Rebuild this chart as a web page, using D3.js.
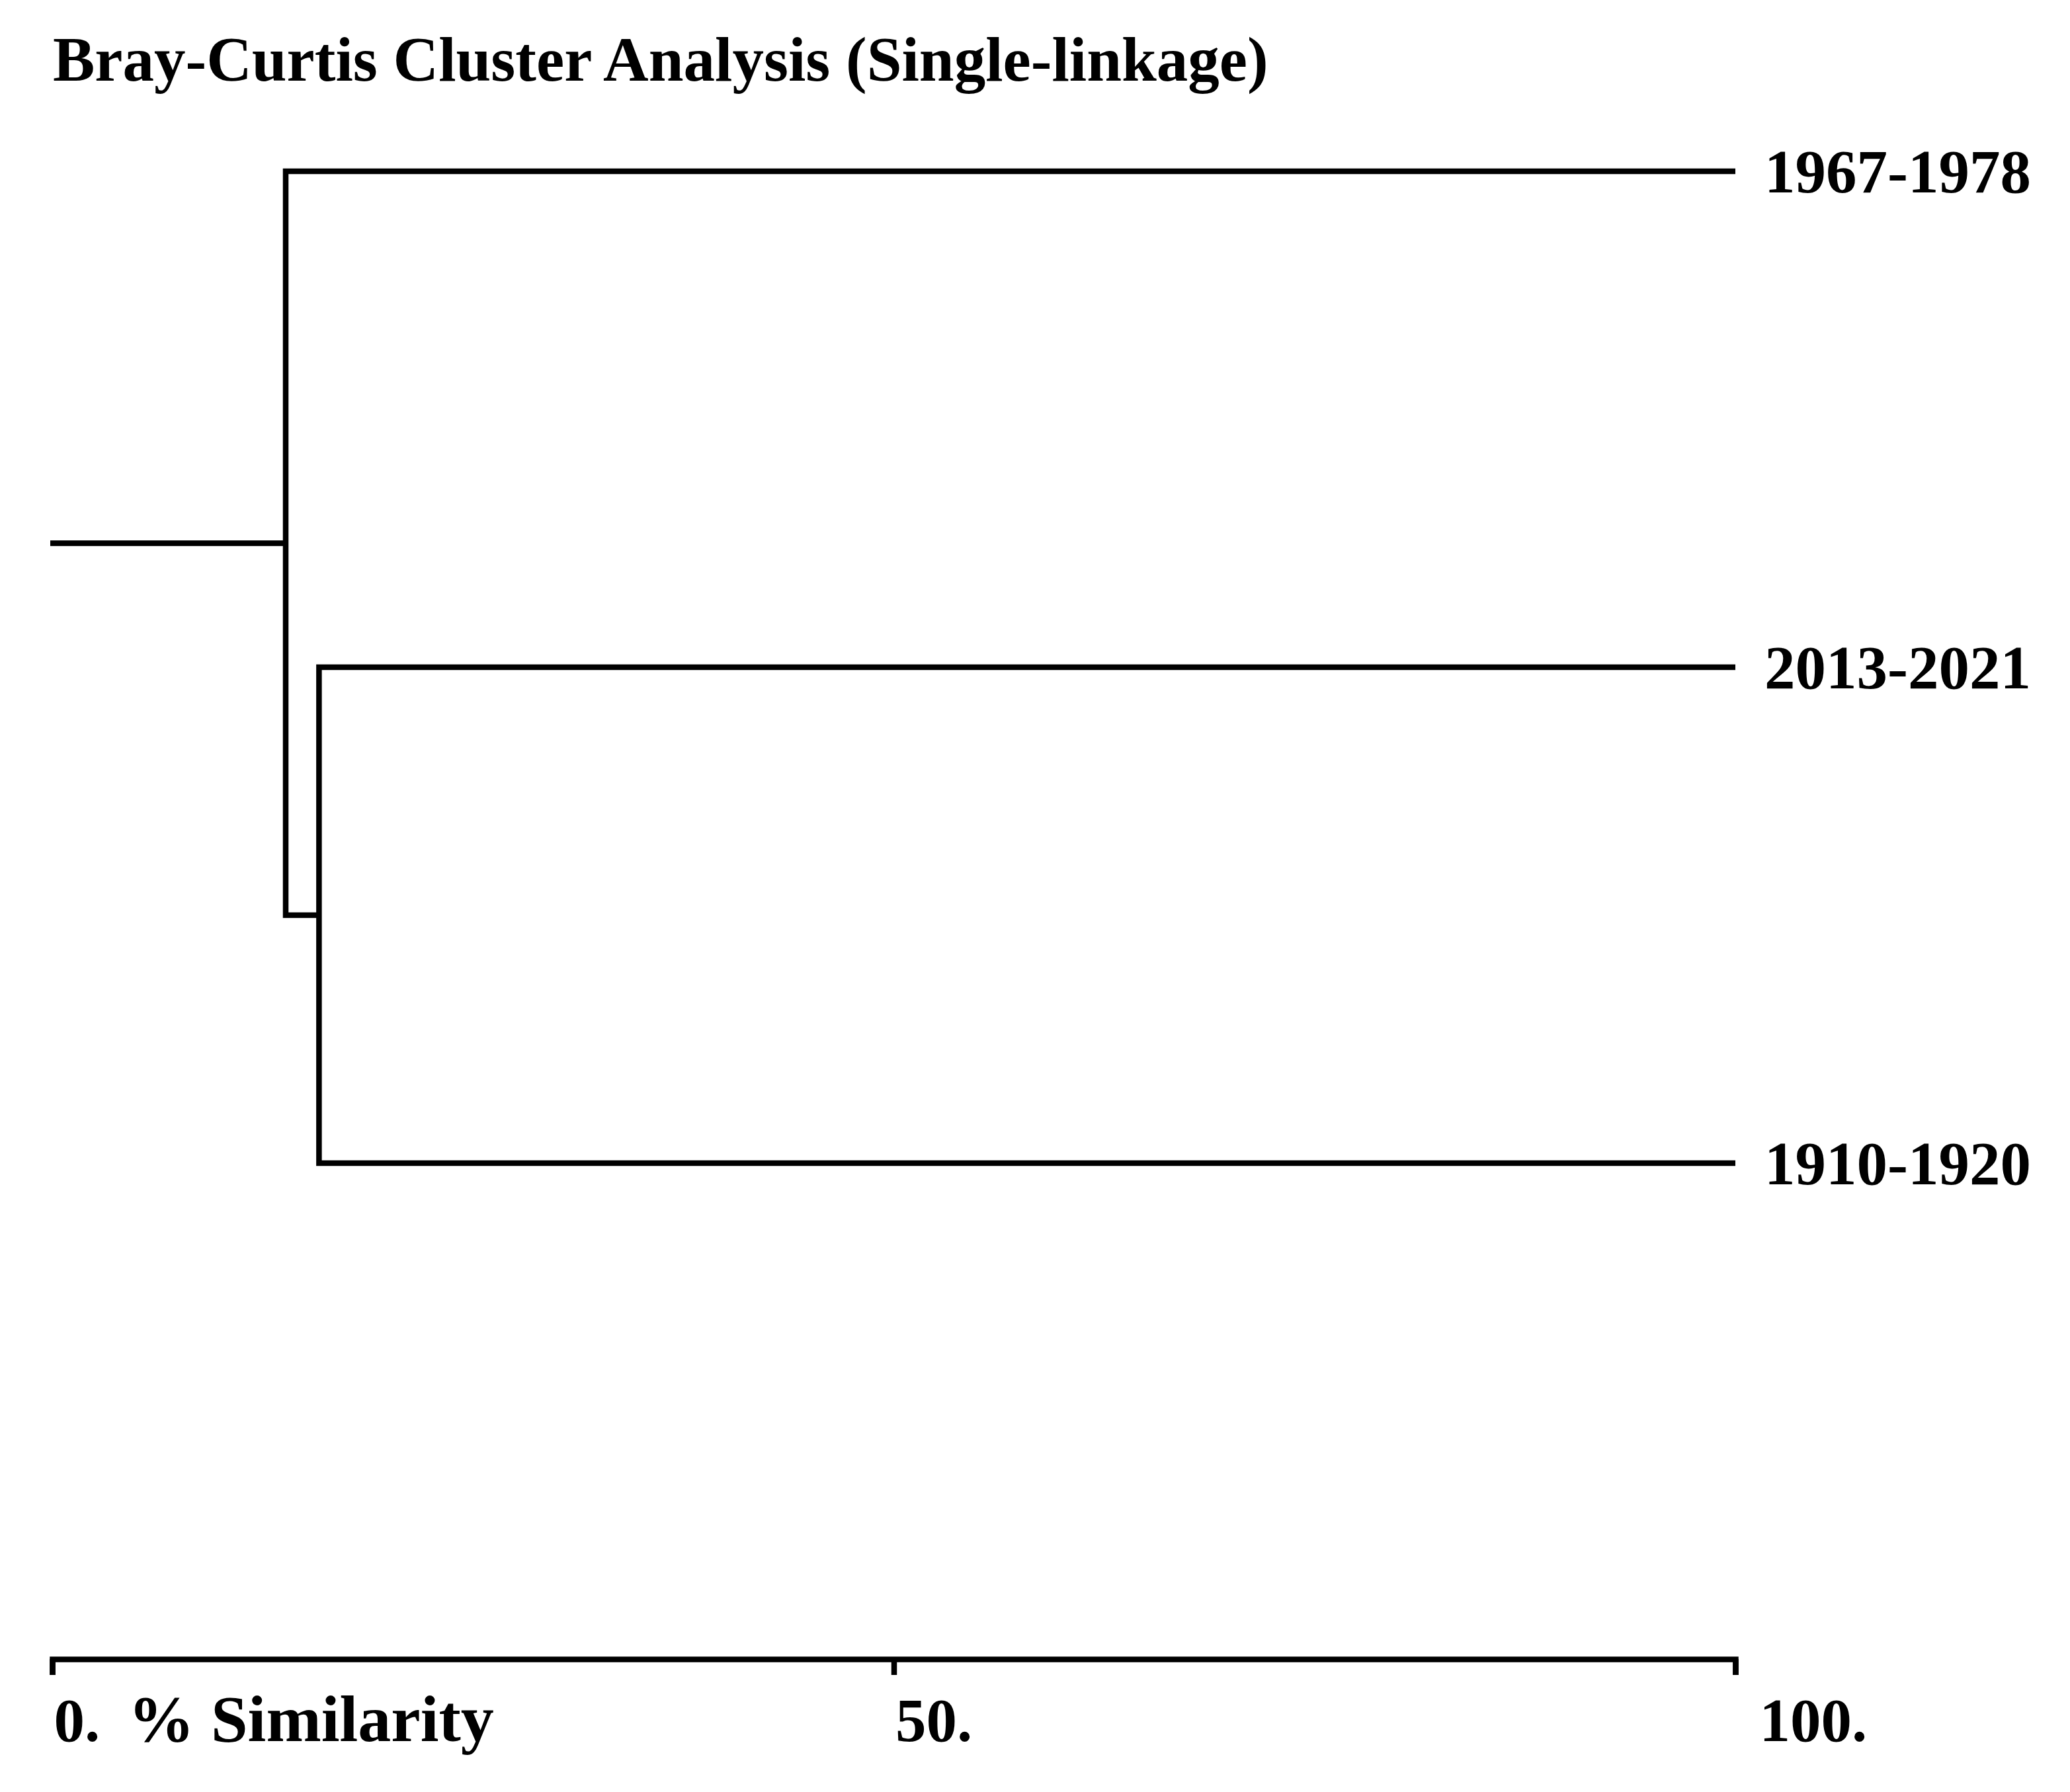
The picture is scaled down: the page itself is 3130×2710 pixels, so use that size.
<!DOCTYPE html>
<html>
<head>
<meta charset="utf-8">
<script src="https://cdn.jsdelivr.net/npm/d3@7"></script>
<style>
  body { margin: 0; background: #fff; }
  text { font-family: 'Liberation Serif', 'Times New Roman', serif; font-weight: bold; fill: #000; }
</style>
</head>
<body>
<svg id="chart" width="3130" height="2710"></svg>
<script>
// leaves, top to bottom
const leafLabels = ['1967-1978', '2013-2021', '1910-1920'];
// merges in order: child indices (>= leaf count means an earlier merge)
const mergeChildren = [[1, 2], [0, 3]];
const mergeLevels = [15.85, 13.87];   // % similarity of each merge
const axisTicks = [0, 50, 100];
const axisTickLabels = ['0.', '50.', '100.'];

const svg = d3.select('#chart');
const lineW = 8.5;

let xScale = d3.scaleLinear()
               .domain([0, 100])
               .range([79, 2624]);
let yScale = d3.scaleLinear()
               .domain([0, 3])
               .range([259, 2509]);

// node positions
let nodes = [];
leafLabels.forEach(function(d, i){
  nodes.push({x: xScale(100), y: yScale(i), label: d});
});
mergeChildren.forEach(function(c, i){
  let a = nodes[c[0]], b = nodes[c[1]];
  nodes.push({x: xScale(mergeLevels[i]), y: (a.y + b.y)/2, kids: [a, b]});
});
let root = nodes[nodes.length - 1];

// title
svg.append('text')
   .attr('x', 80)
   .attr('y', 122)
   .attr('font-size', '95px')
   .text('Bray-Curtis Cluster Analysis (Single-linkage)');

// dendrogram elbows
nodes.filter(function(d){ return d.kids; }).forEach(function(n){
  let a = n.kids[0], b = n.kids[1];
  svg.append('path')
     .attr('d', 'M' + a.x + ',' + a.y + 'H' + n.x + 'V' + b.y + 'H' + b.x)
     .attr('fill', 'none')
     .attr('stroke', 'black')
     .attr('stroke-width', lineW)
     .attr('stroke-linejoin', 'miter');
});

// root stem
svg.append('line')
   .attr('x1', xScale(0) - 3)
   .attr('y1', root.y)
   .attr('x2', root.x)
   .attr('y2', root.y)
   .attr('stroke', 'black')
   .attr('stroke-width', lineW);

// leaf labels
svg.selectAll('.leaf')
   .data(nodes.filter(function(d){ return d.label; }))
   .enter()
   .append('text')
   .attr('class', 'leaf')
   .attr('x', 2668)
   .attr('y', function(d){ return d.y + 32; })
   .attr('font-size', '93px')
   .text(function(d){ return d.label; });

// axis
let axis = d3.axisBottom(xScale)
             .tickValues(axisTicks)
             .tickSize(24)
             .tickSizeOuter(24)
             .tickFormat(function(d, i){ return axisTickLabels[i]; });
let g = svg.append('g')
           .attr('transform', 'translate(0,2509)')
           .call(axis);
g.attr('font-family', null).attr('font-size', null);
g.select('.domain')
 .attr('stroke', 'black')
 .attr('stroke-width', lineW)
 .attr('stroke-linejoin', 'miter');
g.selectAll('.tick line')
 .attr('stroke', 'black')
 .attr('stroke-width', lineW);
g.selectAll('.tick text')
 .attr('font-size', '93px')
 .attr('text-anchor', 'start')
 .attr('fill', 'black')
 .attr('dy', null)
 .attr('y', 124)
 .attr('x', function(d){ return d === 100 ? 36 : 2; });

svg.append('text')
   .attr('x', 194)
   .attr('y', 2633)
   .attr('font-size', '100px')
   .text('% Similarity');
</script>
</body>
</html>
